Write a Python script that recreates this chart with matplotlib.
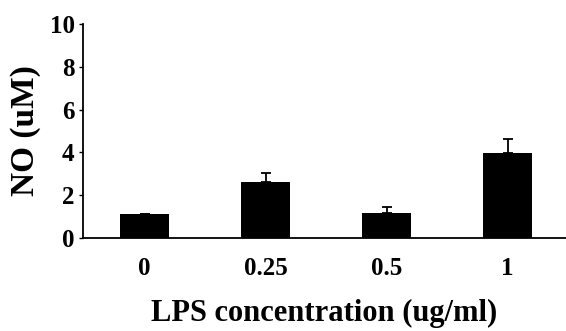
import numpy as np
from matplotlib import pyplot as plt

# данные
concentrations = ['0', '0.25', '0.5', '1']
no_values = [1.12, 2.6, 1.15, 3.98]
no_errors = [0.0, 0.46, 0.28, 0.63]
y_ticks = [0, 2, 4, 6, 8, 10]

plt.rcParams['font.family'] = ['Liberation Serif', 'DejaVu Serif']
plt.rcParams['font.weight'] = 'bold'

fig = plt.figure(figsize=(5.66, 3.31), dpi=100)
ax = fig.add_axes([0.1466, 0.281, 0.853, 0.6465])

x = np.arange(len(concentrations))
ax.bar(x, no_values, width=0.405, color='black', zorder=2)
ax.errorbar(x, no_values, yerr=[np.zeros(len(no_errors)), no_errors],
            fmt='none', ecolor='black', elinewidth=1.3, capsize=3.5,
            capthick=1.3, zorder=1)

ax.set_xlim(-0.51, 3.48)
ax.set_ylim(0, 10)
ax.set_yticks(y_ticks)
ax.set_xticks(x)
ax.set_xticklabels(concentrations)

for s in ['top', 'right']:
    ax.spines[s].set_visible(False)
for s in ['left', 'bottom']:
    ax.spines[s].set_linewidth(1.3)

ax.tick_params(axis='y', direction='out', length=3, width=1, pad=3, labelsize=18)
ax.tick_params(axis='x', length=0, pad=14, labelsize=18)

ax.set_ylabel('NO (uM)', fontsize=24, fontweight='bold', labelpad=6)
ax.set_xlabel('LPS concentration (ug/ml)', fontsize=22, fontweight='bold', labelpad=13)

plt.savefig('out.png', dpi=100)
